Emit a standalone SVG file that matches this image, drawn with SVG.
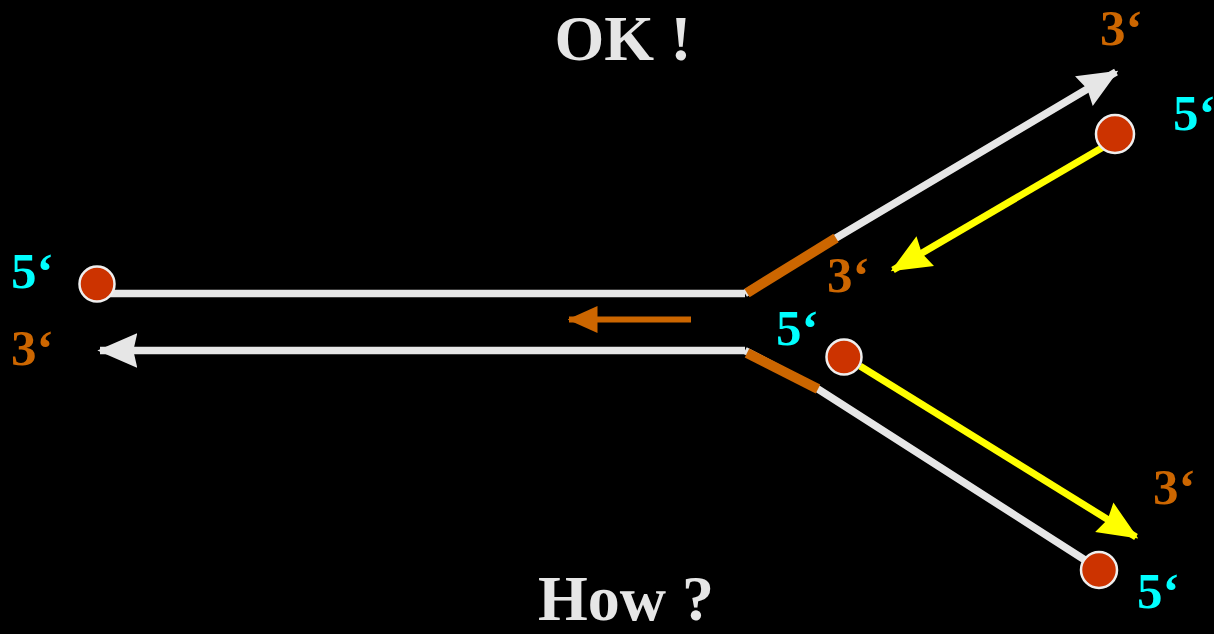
<svg xmlns="http://www.w3.org/2000/svg" width="1214" height="634" viewBox="0 0 1214 634">
<style>
.w{stroke:#E6E6E6;stroke-width:7.5;fill:none}
.o{stroke:#CC6600;stroke-width:10;fill:none}
.y{stroke:#FFFF00;stroke-width:7;fill:none}
.dot{fill:#CC3300;stroke:#EEEEEE;stroke-width:2.5}
.t{font-family:"Liberation Serif","Times New Roman",serif;font-weight:bold}
.big{font-size:64px;fill:#E6E6E6}
.lab{font-size:51px}
.c{fill:#00FFFF}
.r{fill:#CC6600}
</style>
<defs>
<marker id="aw" markerUnits="userSpaceOnUse" markerWidth="40" markerHeight="40" viewBox="0 0 30 26" refX="28" refY="13" orient="auto"><path d="M0,0 L30,13 L0,26 L3,13 Z" fill="#E6E6E6"/></marker>
<marker id="ay" markerUnits="userSpaceOnUse" markerWidth="40" markerHeight="40" viewBox="0 0 30 26" refX="28" refY="13" orient="auto"><path d="M0,0 L30,13 L0,26 L3,13 Z" fill="#FFFF00"/></marker>
<marker id="ao" markerUnits="userSpaceOnUse" markerWidth="30" markerHeight="30" viewBox="0 0 20 18" refX="19" refY="9" orient="auto"><path d="M0,0 L20,9 L0,18 Z" fill="#CC6600"/></marker>
</defs>
<rect width="1214" height="634" fill="#000"/>
<g id="connectors">
<path class="w" d="M97,293.5 L745,293.5"/>
<path class="w" d="M745,293.5 L836,238 L1116,72" marker-end="url(#aw)"/>
<path class="o" d="M747,293 L836,238"/>
<path class="w" d="M745,350.5 L100,350.5" marker-end="url(#aw)"/>
<path class="w" d="M745,350.5 L818,389 L1099,569"/>
<path class="o" d="M747,353 L818,389"/>
<path class="y" d="M1105,146 L893,270" marker-end="url(#ay)"/>
<path class="y" d="M860,366 L1136,537" marker-end="url(#ay)"/>
<path stroke="#CC6600" stroke-width="6" fill="none" d="M691,319.5 L569,319.5" marker-end="url(#ao)"/>
</g>
<g id="node-left-5"><circle class="dot" cx="97" cy="284" r="17.5"/></g>
<g id="node-top-right"><circle class="dot" cx="1115" cy="134" r="19"/></g>
<g id="node-mid"><circle class="dot" cx="844" cy="357" r="17.5"/></g>
<g id="node-bottom-right"><circle class="dot" cx="1099" cy="570" r="18"/></g>
<g id="labels">
<text class="t big" x="623" y="60" text-anchor="middle">OK !</text>
<text class="t big" x="626" y="620" text-anchor="middle">How ?</text>
<text class="t lab r" x="1100" y="45">3‘</text>
<text class="t lab c" x="1173" y="130">5‘</text>
<text class="t lab c" x="11" y="288">5‘</text>
<text class="t lab r" x="11" y="365">3‘</text>
<text class="t lab r" x="827" y="292">3‘</text>
<text class="t lab c" x="776" y="345">5‘</text>
<text class="t lab r" x="1153" y="504">3‘</text>
<text class="t lab c" x="1137" y="608">5‘</text>
</g>
</svg>
